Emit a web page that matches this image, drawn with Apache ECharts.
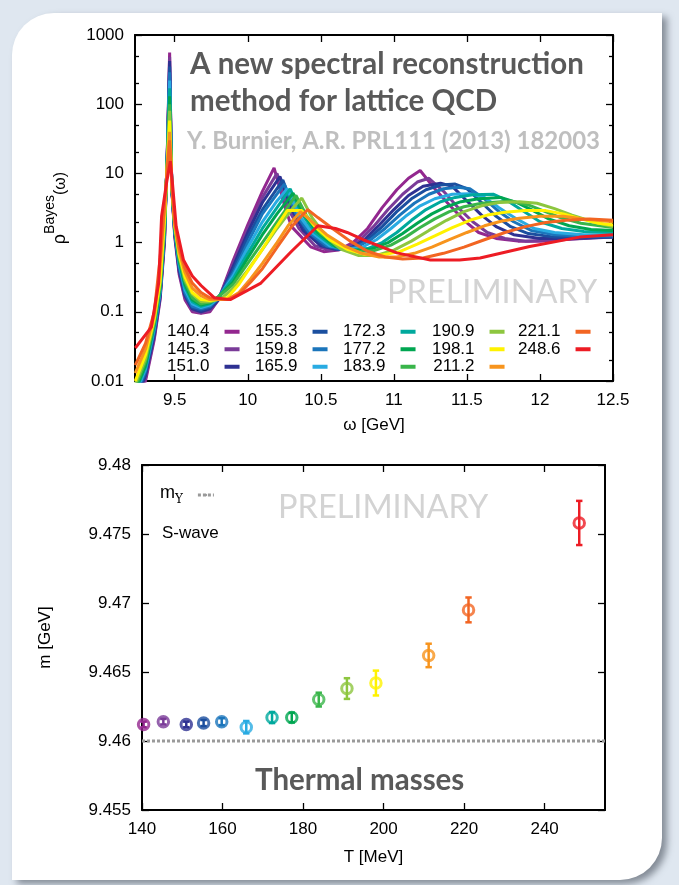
<!DOCTYPE html>
<html><head><meta charset="utf-8">
<script src="https://cdn.jsdelivr.net/npm/echarts@6/dist/echarts.min.js"></script>
<style>html,body{margin:0;padding:0;background:#dfe7f0}#c{width:679px;height:885px}</style>
</head><body><div id="c"></div>
<script>
// ---------- data ----------
const temps = ['140.4','145.3','151.0','155.3','159.8','165.9','172.3','177.2','183.9','190.9','198.1','211.2','221.1','248.6'];
const colors = ['#93278f','#7a3b98','#2e3192','#1b4f9f','#1b75bb','#29abe2','#00a99d','#00a651','#39b54a','#8dc63f','#fff200','#f7941d','#f26522','#ed1c24'];

const rho_140_4 = [[9.23,0.004],[9.30,0.010],[9.36,0.04],[9.40,0.15],[9.43,1.0],[9.45,25],[9.465,560],[9.48,6],[9.50,1.2],[9.53,0.35],[9.57,0.15],[9.62,0.10],[9.68,0.095],[9.74,0.10],[9.80,0.15],[9.90,0.55],[10.00,1.8],[10.10,5.5],[10.18,12],[10.26,3.0],[10.30,1.7],[10.43,0.87],[10.52,0.74],[10.62,0.78],[10.72,1.0],[10.82,1.6],[10.92,3.2],[11.02,5.8],[11.10,8.5],[11.18,11],[11.28,6],[11.38,3.5],[11.48,2.1],[11.58,1.4],[11.70,1.15],[11.85,1.05],[12.00,1.05],[12.20,1.12],[12.50,1.25]];
const rho_145_3 = [[9.23,0.0045],[9.30,0.011],[9.36,0.043],[9.40,0.16],[9.43,1.1],[9.45,24],[9.465,480],[9.48,6],[9.50,1.3],[9.53,0.38],[9.57,0.16],[9.62,0.105],[9.68,0.097],[9.74,0.105],[9.80,0.15],[9.90,0.5],[10.00,1.6],[10.10,4.5],[10.20,10],[10.28,3.0],[10.35,1.6],[10.46,0.9],[10.56,0.78],[10.66,0.8],[10.76,1.05],[10.86,1.7],[10.96,3.0],[11.06,5.0],[11.16,7.5],[11.24,8.5],[11.34,5.5],[11.44,3.2],[11.54,2.0],[11.64,1.4],[11.76,1.15],[11.90,1.05],[12.10,1.1],[12.30,1.15],[12.50,1.2]];
const rho_151_0 = [[9.23,0.005],[9.30,0.012],[9.36,0.046],[9.40,0.17],[9.43,1.2],[9.45,23],[9.465,420],[9.48,6],[9.50,1.35],[9.53,0.40],[9.57,0.17],[9.62,0.11],[9.68,0.10],[9.74,0.11],[9.80,0.15],[9.90,0.45],[10.00,1.4],[10.10,3.8],[10.22,9],[10.30,3.0],[10.38,1.5],[10.50,0.9],[10.60,0.8],[10.70,0.82],[10.80,1.1],[10.90,1.8],[11.00,3.0],[11.10,4.8],[11.20,6.5],[11.32,7.2],[11.40,6.5],[11.50,4.0],[11.60,2.5],[11.70,1.7],[11.82,1.3],[12.00,1.15],[12.20,1.15],[12.50,1.2]];
const rho_155_3 = [[9.23,0.0055],[9.30,0.013],[9.36,0.05],[9.40,0.18],[9.43,1.3],[9.45,22],[9.465,350],[9.48,6],[9.50,1.4],[9.53,0.43],[9.57,0.18],[9.62,0.115],[9.68,0.105],[9.74,0.115],[9.80,0.155],[9.90,0.4],[10.00,1.2],[10.10,3.0],[10.24,8],[10.32,2.8],[10.40,1.5],[10.52,0.9],[10.62,0.8],[10.72,0.85],[10.82,1.1],[10.92,1.7],[11.02,2.8],[11.12,4.3],[11.22,5.8],[11.32,6.8],[11.42,7.0],[11.50,6.0],[11.60,3.8],[11.70,2.4],[11.80,1.7],[11.92,1.35],[12.10,1.2],[12.30,1.2],[12.50,1.2]];
const rho_159_8 = [[9.23,0.006],[9.30,0.014],[9.36,0.054],[9.40,0.19],[9.43,1.4],[9.45,21],[9.465,290],[9.48,6.2],[9.50,1.45],[9.53,0.46],[9.57,0.19],[9.62,0.12],[9.68,0.11],[9.74,0.12],[9.80,0.16],[9.90,0.36],[10.00,1.0],[10.10,2.6],[10.25,7],[10.33,2.6],[10.42,1.4],[10.54,0.9],[10.64,0.8],[10.74,0.85],[10.84,1.1],[10.94,1.6],[11.04,2.5],[11.14,3.7],[11.24,5.0],[11.34,6.0],[11.44,6.3],[11.52,6.0],[11.62,4.3],[11.72,2.8],[11.82,2.0],[11.94,1.5],[12.10,1.3],[12.30,1.25],[12.50,1.25]];
const rho_165_9 = [[9.23,0.0065],[9.30,0.015],[9.36,0.058],[9.40,0.2],[9.43,1.5],[9.45,20],[9.465,220],[9.48,6.2],[9.50,1.5],[9.53,0.5],[9.57,0.21],[9.62,0.13],[9.68,0.115],[9.74,0.125],[9.80,0.16],[9.90,0.33],[10.00,0.85],[10.10,2.0],[10.20,4.0],[10.27,6],[10.35,2.5],[10.44,1.4],[10.56,0.9],[10.68,0.8],[10.78,0.85],[10.88,1.1],[10.98,1.6],[11.08,2.4],[11.18,3.4],[11.28,4.3],[11.40,5.0],[11.52,5.1],[11.62,4.5],[11.72,3.2],[11.84,2.2],[11.96,1.6],[12.10,1.4],[12.30,1.3],[12.50,1.3]];
const rho_172_3 = [[9.23,0.007],[9.30,0.016],[9.36,0.062],[9.40,0.21],[9.43,1.6],[9.45,19],[9.465,170],[9.48,6.4],[9.50,1.55],[9.53,0.53],[9.57,0.23],[9.62,0.14],[9.68,0.12],[9.74,0.13],[9.80,0.165],[9.90,0.3],[10.00,0.7],[10.10,1.6],[10.20,3.2],[10.29,6],[10.36,2.8],[10.46,1.4],[10.58,0.9],[10.70,0.78],[10.82,0.82],[10.92,1.0],[11.02,1.4],[11.12,2.1],[11.22,3.0],[11.32,3.9],[11.42,4.5],[11.54,4.9],[11.68,5.0],[11.78,4.0],[11.88,2.9],[12.00,2.0],[12.15,1.6],[12.30,1.45],[12.50,1.4]];
const rho_177_2 = [[9.23,0.0075],[9.30,0.017],[9.36,0.066],[9.40,0.22],[9.43,1.7],[9.45,18],[9.465,130],[9.48,6.4],[9.50,1.6],[9.53,0.56],[9.57,0.25],[9.62,0.15],[9.68,0.125],[9.74,0.135],[9.80,0.165],[9.90,0.27],[10.00,0.6],[10.10,1.3],[10.20,2.6],[10.31,5.2],[10.38,2.6],[10.48,1.4],[10.60,0.88],[10.72,0.76],[10.84,0.8],[10.96,1.0],[11.06,1.35],[11.16,1.9],[11.26,2.6],[11.36,3.3],[11.46,3.9],[11.58,4.3],[11.73,4.5],[11.84,3.8],[11.94,3.0],[12.06,2.2],[12.20,1.75],[12.35,1.55],[12.50,1.5]];
const rho_183_9 = [[9.23,0.008],[9.30,0.019],[9.36,0.07],[9.40,0.24],[9.43,1.8],[9.45,17],[9.465,100],[9.48,6.5],[9.50,1.7],[9.53,0.6],[9.57,0.27],[9.62,0.16],[9.68,0.13],[9.74,0.14],[9.80,0.165],[9.90,0.25],[10.00,0.5],[10.10,1.0],[10.20,2.0],[10.33,4.8],[10.40,2.5],[10.50,1.35],[10.62,0.86],[10.74,0.74],[10.86,0.76],[10.98,0.92],[11.08,1.2],[11.18,1.65],[11.28,2.2],[11.38,2.8],[11.48,3.3],[11.60,3.7],[11.80,4.0],[11.92,3.5],[12.02,2.9],[12.14,2.3],[12.28,1.9],[12.50,1.65]];
const rho_190_9 = [[9.23,0.009],[9.30,0.021],[9.36,0.075],[9.40,0.26],[9.43,2.0],[9.45,16],[9.465,80],[9.48,6.6],[9.50,1.75],[9.53,0.64],[9.57,0.29],[9.62,0.18],[9.68,0.14],[9.74,0.14],[9.82,0.155],[9.90,0.22],[10.00,0.4],[10.10,0.8],[10.20,1.6],[10.30,3.0],[10.37,4.4],[10.44,2.3],[10.54,1.2],[10.64,0.8],[10.76,0.65],[10.88,0.65],[11.00,0.78],[11.12,1.05],[11.24,1.5],[11.36,2.1],[11.48,2.8],[11.60,3.4],[11.72,3.8],[11.86,3.9],[11.98,3.7],[12.10,3.1],[12.22,2.5],[12.36,2.0],[12.50,1.7]];
const rho_198_1 = [[9.23,0.010],[9.30,0.024],[9.36,0.08],[9.40,0.28],[9.43,2.2],[9.45,15],[9.465,58],[9.48,6.7],[9.50,1.8],[9.53,0.68],[9.57,0.32],[9.62,0.19],[9.68,0.15],[9.74,0.145],[9.86,0.16],[9.94,0.25],[10.02,0.45],[10.10,0.8],[10.18,1.5],[10.27,2.9],[10.37,2.9],[10.46,1.7],[10.56,1.1],[10.68,0.8],[10.80,0.68],[10.92,0.66],[11.04,0.74],[11.16,0.95],[11.28,1.25],[11.40,1.65],[11.52,2.1],[11.64,2.5],[11.76,2.75],[11.90,2.9],[12.04,2.9],[12.16,2.6],[12.28,2.2],[12.40,1.9],[12.50,1.8]];
const rho_211_2 = [[9.23,0.013],[9.30,0.029],[9.36,0.09],[9.40,0.45],[9.43,3.0],[9.45,14],[9.465,40],[9.48,6.8],[9.50,1.9],[9.53,0.75],[9.57,0.37],[9.62,0.22],[9.68,0.17],[9.74,0.15],[9.86,0.15],[9.94,0.19],[10.02,0.3],[10.10,0.5],[10.20,1.0],[10.28,1.8],[10.36,2.8],[10.44,2.0],[10.54,1.3],[10.66,0.9],[10.78,0.7],[10.90,0.62],[11.02,0.62],[11.14,0.7],[11.26,0.86],[11.38,1.1],[11.50,1.4],[11.62,1.75],[11.74,2.05],[11.86,2.25],[12.00,2.4],[12.16,2.4],[12.30,2.2],[12.50,2.0]];
const rho_221_1 = [[9.23,0.017],[9.30,0.035],[9.36,0.10],[9.40,0.6],[9.43,3.5],[9.45,12],[9.465,30],[9.48,6.9],[9.50,2.0],[9.53,0.85],[9.57,0.43],[9.62,0.26],[9.68,0.19],[9.74,0.16],[9.86,0.15],[9.94,0.18],[10.02,0.27],[10.10,0.42],[10.20,0.85],[10.30,1.7],[10.41,3.0],[10.48,2.3],[10.58,1.6],[10.70,1.05],[10.82,0.75],[10.94,0.62],[11.06,0.58],[11.20,0.6],[11.34,0.7],[11.48,0.86],[11.62,1.1],[11.76,1.4],[11.90,1.7],[12.04,1.95],[12.18,2.1],[12.34,2.2],[12.50,2.1]];
const rho_248_6 = [[9.23,0.03],[9.34,0.06],[9.39,0.26],[9.41,2.4],[9.445,7.5],[9.47,15],[9.485,7],[9.51,1.7],[9.56,0.56],[9.62,0.33],[9.68,0.24],[9.77,0.16],[9.88,0.15],[10.09,0.26],[10.30,0.75],[10.48,1.75],[10.60,1.6],[10.68,1.4],[10.79,1.1],[11.02,0.71],[11.25,0.56],[11.45,0.56],[11.59,0.6],[11.93,0.88],[12.27,1.2],[12.50,1.3]];
const spectra = [rho_140_4,rho_145_3,rho_151_0,rho_155_3,rho_159_8,rho_165_9,rho_172_3,rho_177_2,rho_183_9,rho_190_9,rho_198_1,rho_211_2,rho_221_1,rho_248_6];

const omegaTicks = [9.5,10,10.5,11,11.5,12,12.5];
const rhoMajor = [0.01,0.1,1,10,100,1000];
const rhoMinor = [0.02,0.05,0.2,0.5,2,5,20,50,200,500];

const massT   = [140.4,145.3,151.0,155.3,159.8,165.9,172.3,177.2,183.9,190.9,198.1,211.2,221.1,248.6];
const massM   = [9.4612,9.4614,9.4612,9.4613,9.4614,9.4610,9.4617,9.4617,9.4630,9.4638,9.4642,9.4662,9.4695,9.4758];
const massErr = [0.0002,0.0002,0.0002,0.00022,0.00025,0.00045,0.0004,0.00035,0.0005,0.00075,0.0009,0.00085,0.0009,0.0016];
const mUpsilon = 9.46;
const tTicks = [140,160,180,200,220,240];
const mTicks = [9.455,9.46,9.465,9.47,9.475,9.48];

// ---------- chart ----------
const FONT = '"Liberation Sans", Arial, sans-serif';
const TXT = {fontFamily: FONT, fontSize: 17, color: '#000'};
const axisLine = {show: true, lineStyle: {color: '#000', width: 2}};
const tick = (vals, len) => ({show: true, inside: true, length: len, customValues: vals, lineStyle: {color: '#000', width: 1.3}});
const fmt = v => String(+(+v).toPrecision(6));

const xAxes = [
  {gridIndex: 0, type: 'value', min: 9.228, max: 12.5, position: 'bottom', axisLine, splitLine: {show: false},
   axisTick: tick(omegaTicks, 7), axisLabel: Object.assign({customValues: omegaTicks, margin: 11, formatter: fmt}, TXT),
   name: 'ω [GeV]', nameLocation: 'middle', nameGap: 36, nameTextStyle: TXT},
  {gridIndex: 0, type: 'value', min: 9.228, max: 12.5, position: 'top', axisLine, splitLine: {show: false},
   axisTick: tick(omegaTicks, 7), axisLabel: {show: false}},
  {gridIndex: 1, type: 'value', min: 140, max: 255, position: 'bottom', axisLine, splitLine: {show: false},
   axisTick: tick(tTicks, 7), axisLabel: Object.assign({customValues: tTicks, margin: 11, formatter: fmt}, TXT),
   name: 'T [MeV]', nameLocation: 'middle', nameGap: 39, nameTextStyle: TXT},
  {gridIndex: 1, type: 'value', min: 140, max: 255, position: 'top', axisLine, splitLine: {show: false},
   axisTick: tick(tTicks, 7), axisLabel: {show: false}}
];
const yAxes = [
  {gridIndex: 0, type: 'log', logBase: 10, min: 0.01, max: 1000, position: 'left', axisLine, splitLine: {show: false},
   axisTick: tick(rhoMajor, 7), axisLabel: Object.assign({customValues: rhoMajor, margin: 11, formatter: fmt}, TXT),
   name: '{r|ρ}{s|Bayes}{w|(ω)}', nameLocation: 'middle', nameGap: 66,
   nameTextStyle: {fontFamily: FONT, color: '#000', rich: {
     r: {fontFamily: FONT, fontSize: 18, lineHeight: 26, verticalAlign: 'bottom'},
     s: {fontFamily: FONT, fontSize: 14, lineHeight: 26, verticalAlign: 'top'},
     w: {fontFamily: FONT, fontSize: 16, lineHeight: 26, verticalAlign: 'bottom'}}}},
  {gridIndex: 0, type: 'log', logBase: 10, min: 0.01, max: 1000, position: 'left', axisLine: {show: false}, splitLine: {show: false},
   axisTick: tick(rhoMinor, 4), axisLabel: {show: false}},
  {gridIndex: 0, type: 'log', logBase: 10, min: 0.01, max: 1000, position: 'right', axisLine, splitLine: {show: false},
   axisTick: tick(rhoMajor, 7), axisLabel: {show: false}},
  {gridIndex: 0, type: 'log', logBase: 10, min: 0.01, max: 1000, position: 'right', axisLine: {show: false}, splitLine: {show: false},
   axisTick: tick(rhoMinor, 4), axisLabel: {show: false}},
  {gridIndex: 1, type: 'value', min: 9.455, max: 9.48, position: 'left', axisLine, splitLine: {show: false},
   axisTick: tick(mTicks, 7), axisLabel: Object.assign({customValues: mTicks, margin: 11, formatter: fmt}, TXT),
   name: 'm [GeV]', nameLocation: 'middle', nameGap: 88, nameTextStyle: TXT},
  {gridIndex: 1, type: 'value', min: 9.455, max: 9.48, position: 'right', axisLine, splitLine: {show: false},
   axisTick: tick(mTicks, 7), axisLabel: {show: false}}
];

const series = spectra.map((d, i) => ({
  type: 'line', name: temps[i], xAxisIndex: 0, yAxisIndex: 0, data: d,
  symbol: 'none', showSymbol: false, clip: true, color: colors[i],
  lineStyle: {width: 3, color: colors[i]}, itemStyle: {color: colors[i]}, z: 2
}));
series.push({
  type: 'line', name: 'mY', xAxisIndex: 2, yAxisIndex: 4, data: [[140, mUpsilon], [255, mUpsilon]],
  symbol: 'none', color: '#9a9a9a', lineStyle: {width: 3, color: '#9a9a9a', type: [3, 2]}, z: 2
});
series.push({
  type: 'custom', name: 'err', xAxisIndex: 2, yAxisIndex: 4, z: 3,
  data: massT.map((t, i) => [t, massM[i] - massErr[i], massM[i] + massErr[i], i]),
  renderItem: (params, api) => {
    const x = api.value(0), idx = api.value(3);
    const p1 = api.coord([x, api.value(1)]), p2 = api.coord([x, api.value(2)]);
    const st = {stroke: colors[idx], lineWidth: 2.5};
    const w = 3.2;
    return {type: 'group', children: [
      {type: 'line', shape: {x1: p1[0], y1: p1[1], x2: p2[0], y2: p2[1]}, style: st},
      {type: 'line', shape: {x1: p1[0] - w, y1: p1[1], x2: p1[0] + w, y2: p1[1]}, style: st},
      {type: 'line', shape: {x1: p2[0] - w, y1: p2[1], x2: p2[0] + w, y2: p2[1]}, style: st}
    ]};
  }
});
series.push({
  type: 'scatter', name: 'S-wave', xAxisIndex: 2, yAxisIndex: 4, symbol: 'circle', symbolSize: 10.5, z: 4,
  data: massT.map((t, i) => ({value: [t, massM[i]], itemStyle: {color: 'rgba(255,255,255,0)', borderColor: colors[i], borderWidth: 3}}))
});

const legendCols = [[0,3],[3,6],[6,9],[9,12],[12,14]];
const legendLeft = [167, 255, 343, 432, 518];
const legends = legendCols.map((r, k) => ({
  orient: 'vertical', align: 'right', left: legendLeft[k], top: 323, padding: 0, itemGap: 0,
  itemWidth: 15, itemHeight: 4, icon: 'rect', selectedMode: false,
  textStyle: {fontFamily: FONT, fontSize: 17, color: '#000', lineHeight: 17.5, padding: [0, 10, 0, 0]},
  data: temps.slice(r[0], r[1])
}));
legends.push({
  orient: 'vertical', align: 'right', left: 160, top: 484, padding: 0, itemWidth: 16, itemHeight: 3, selectedMode: false,
  lineStyle: {width: 3, color: '#9a9a9a', type: [3, 2]},
  data: ['mY'], formatter: () => '{m|m}{s|Υ}',
  textStyle: {fontFamily: FONT, color: '#000', padding: [0, 10, 0, 0], rich: {
    m: {fontFamily: FONT, fontSize: 18, lineHeight: 22, verticalAlign: 'top'},
    s: {fontFamily: '"DejaVu Serif", serif', fontSize: 12, lineHeight: 22, verticalAlign: 'bottom'}}}
});

const titles = [
  {text: 'A new spectral reconstruction', left: 190, top: 49, padding: 0, textStyle: {fontFamily: 'Lato', fontWeight: 'bold', fontSize: 29.5, color: '#595959'}},
  {text: 'method for lattice QCD', left: 190, top: 86, padding: 0, textStyle: {fontFamily: 'Lato', fontWeight: 'bold', fontSize: 29.5, color: '#595959'}},
  {text: 'Y. Burnier, A.R. PRL111 (2013) 182003', left: 187, top: 129, padding: 0, textStyle: {fontFamily: 'Lato', fontWeight: 'bold', fontSize: 24, color: '#bfbfbf'}},
  {text: 'PRELIMINARY', left: 387, top: 276, padding: 0, textStyle: {fontFamily: 'Lato', fontWeight: 'normal', fontSize: 32.5, color: '#d3d3d3'}},
  {text: 'PRELIMINARY', left: 278, top: 491, padding: 0, textStyle: {fontFamily: 'Lato', fontWeight: 'normal', fontSize: 32.5, color: '#d3d3d3'}},
  {text: 'Thermal masses', left: 255, top: 765, padding: 0, textStyle: {fontFamily: 'Lato', fontWeight: 'bold', fontSize: 29.5, color: '#595959'}},
  {text: 'S-wave', left: 162, top: 525, padding: 0, textStyle: {fontFamily: FONT, fontWeight: 'normal', fontSize: 17, color: '#000'}}
];

const chart = echarts.init(document.getElementById('c'), null, {renderer: 'canvas'});
chart.setOption({
  backgroundColor: '#dfe7f0',
  animation: false,
  graphic: [{type: 'rect', z: -100, silent: true,
    shape: {x: 12, y: 13, width: 650, height: 867, r: [42, 0, 42, 0]},
    style: {fill: '#ffffff', shadowBlur: 7, shadowOffsetX: 5, shadowOffsetY: 4, shadowColor: 'rgba(70,78,90,0.6)'}}],
  title: titles,
  legend: legends,
  grid: [
    {left: 135, right: 66, top: 35, height: 346},
    {left: 142, right: 74, top: 465, height: 345}
  ],
  xAxis: xAxes,
  yAxis: yAxes,
  series: series
});
</script></body></html>
